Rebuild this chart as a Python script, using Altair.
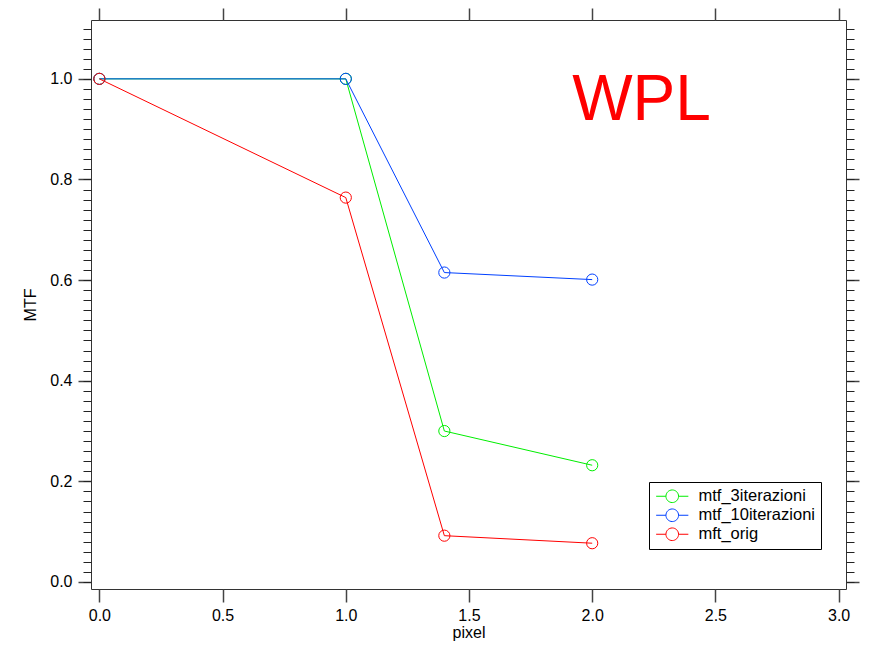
import altair as alt
import numpy as np
import pandas as pd

# ---- data ----
series_names = ["mtf_3iterazioni", "mtf_10iterazioni", "mft_orig"]
series_colors = ["#00ee00", "#0040ff", "#ff0000"]
pixel_x = [0.0, 1.0, 1.4, 2.0]
mtf_3iterazioni = [1.0, 1.0, 0.300, 0.232]
mtf_10iterazioni = [1.0, 1.0, 0.615, 0.601]
mft_orig = [1.0, 0.764, 0.092, 0.077]

annotation_text = ["WPL"]
annotation_x = [2.2]
annotation_y = [0.919]

x_major = [0.0, 0.5, 1.0, 1.5, 2.0, 2.5, 3.0]
y_major = [0.0, 0.2, 0.4, 0.6, 0.8, 1.0]
y_minor = [round(v, 2) for v in np.arange(0.0, 1.101, 0.02)]

rows = []
for name, vals in zip(series_names, [mtf_3iterazioni, mtf_10iterazioni, mft_orig]):
    for i, (xv, yv) in enumerate(zip(pixel_x, vals)):
        rows.append({"series": name, "x": xv, "y": yv, "idx": i})
df = pd.DataFrame(rows)
ann = pd.DataFrame({"label": annotation_text, "x": annotation_x, "y": annotation_y})

FONT = "Liberation Sans"
xscale = alt.Scale(domain=[-0.034, 3.03], nice=False, zero=False)
yscale = alt.Scale(domain=[-0.014, 1.117], nice=False, zero=False)

legend_path = ("M-2.3,0L-0.9,0M0.9,0L2.3,0"
               "M0.9,0A0.9,0.9,0,1,1,-0.9,0A0.9,0.9,0,1,1,0.9,0")

color = alt.Color(
    "series:N",
    sort=series_names,
    scale=alt.Scale(domain=series_names, range=series_colors),
    legend=alt.Legend(
        title=None,
        orient="none",
        legendX=558,
        legendY=462,
        symbolType=legend_path,
        symbolSize=196,
        symbolStrokeWidth=1,
        symbolOffset=9,
        labelOffset=18,
        labelFont=FONT,
        labelFontSize=16.5,
        labelColor="black",
        rowPadding=1,
        padding=6,
        strokeColor="black",
        fillColor="white",
    ),
)

common_axis = dict(labelFont=FONT, labelFontSize=16, labelColor="black",
                   titleFont=FONT, titleFontSize=16, titleColor="black",
                   titleFontWeight="normal", domain=False, grid=False)

lines = alt.Chart(df).mark_line(strokeWidth=1).encode(
    x=alt.X("x:Q", scale=xscale, title="pixel",
            axis=alt.Axis(orient="bottom", values=x_major, format=".1f",
                          tickSize=13, tickWidth=1.5, tickColor="#444",
                          labelPadding=5, titlePadding=1, **common_axis)),
    y=alt.Y("y:Q", scale=yscale, title="MTF",
            axis=alt.Axis(orient="left", values=y_major, format=".1f",
                          tickSize=13, tickWidth=1.5, tickColor="#444",
                          labelPadding=6, titlePadding=11, **common_axis)),
    color=color,
    order="idx:Q",
)

points = alt.Chart(df).mark_point(shape="circle", filled=False, size=125,
                                  strokeWidth=1, opacity=1).encode(
    x=alt.X("x:Q", scale=xscale, title=None,
            axis=alt.Axis(orient="top", values=x_major, labels=False,
                          tickSize=12, tickWidth=1.5, tickColor="#444",
                          domain=False, grid=False)),
    y=alt.Y("y:Q", scale=yscale, title=None,
            axis=alt.Axis(orient="left", values=y_minor, labels=False,
                          tickSize=8, tickWidth=1, tickColor="#222",
                          domain=False, grid=False)),
    color=color,
)

text = alt.Chart(ann).mark_text(font=FONT, fontSize=64, color="#ff0000",
                                align="center", baseline="alphabetic").encode(
    x=alt.X("x:Q", scale=xscale, axis=None),
    y=alt.Y("y:Q", scale=yscale, title=None,
            axis=alt.Axis(orient="right", values=y_major, labels=False,
                          tickSize=13, tickWidth=1.5, tickColor="#444",
                          domain=False, grid=False)),
    text="label:N",
)

right_minor = alt.Chart(df).mark_point(opacity=0, size=1).encode(
    x=alt.X("x:Q", scale=xscale, axis=None),
    y=alt.Y("y:Q", scale=yscale, title=None,
            axis=alt.Axis(orient="right", values=y_minor, labels=False,
                          tickSize=8, tickWidth=1, tickColor="#222",
                          domain=False, grid=False)),
)

chart = alt.layer(lines, points, text, right_minor).resolve_axis(
    x="independent", y="independent"
).properties(
    width=755,
    height=569,
    autosize=alt.AutoSizeParams(type="none"),
    padding={"left": 83, "top": 12, "right": 18, "bottom": 52},
    background="white",
).configure_view(stroke="#333", strokeWidth=1)

chart.save("out.html", embed_options={"renderer": "svg", "actions": False})
